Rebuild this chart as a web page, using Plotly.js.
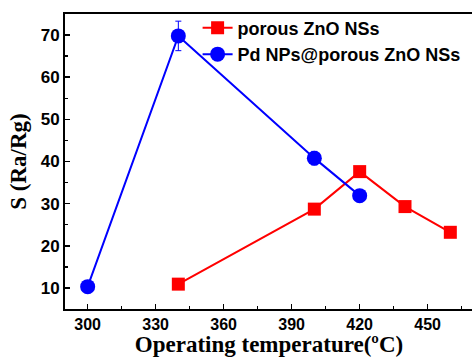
<!DOCTYPE html>
<html>
<head>
<meta charset="utf-8">
<script src="https://cdn.plot.ly/plotly-3.0.1.min.js"></script>
<style>
html,body{margin:0;padding:0;overflow:hidden;background:#fff;width:472px;height:357px;}
#chart{width:480px;height:357px;}
</style>
</head>
<body>
<div id="chart"></div>
<script>
// Data
const porousTemps = [340, 400, 420, 440, 460];
const porousS = [10.9, 28.7, 37.6, 29.3, 23.2];
const pdTemps = [300, 340, 400, 420];
const pdS = [10.3, 69.8, 40.8, 31.9];
const pdErr = [0, 3.5, 1.6, 0];
const xTickVals = [300, 330, 360, 390, 420, 450];
const yTickVals = [10, 20, 30, 40, 50, 60, 70];
const seriesNames = ['porous ZnO NSs', 'Pd NPs@porous ZnO NSs'];

const tickFont = {family: 'Arial, "Liberation Sans", sans-serif', size: 17, color: '#000', weight: 'bold'};
const xTickFont = {family: 'Arial, "Liberation Sans", sans-serif', size: 16, color: '#000', weight: 'bold'};
const titleFont = {family: '"Times New Roman", "Liberation Serif", serif', size: 23, color: '#000', weight: 'bold'};

const traces = [
  {
    x: porousTemps, y: porousS, name: seriesNames[0], type: 'scatter', mode: 'lines+markers',
    line: {color: '#ff0000', width: 2},
    marker: {symbol: 'square', size: 13, color: '#ff0000'}
  },
  {
    x: pdTemps, y: pdS, name: seriesNames[1], type: 'scatter', mode: 'lines+markers',
    line: {color: '#0000ff', width: 2},
    marker: {symbol: 'circle', size: 15, color: '#0000ff'},
    error_y: {type: 'data', array: pdErr, visible: true, color: '#0000ff', thickness: 1, width: 3}
  }
];

const axisCommon = {
  showgrid: false, zeroline: false, showline: true, linecolor: '#000', linewidth: 2,
  mirror: true, ticks: 'inside', ticklen: 5, tickwidth: 1.5, tickcolor: '#000',
  tickfont: tickFont
};

const layout = {
  width: 480, height: 357,
  margin: {l: 65, r: 7, t: 14, b: 48},
  paper_bgcolor: '#fff', plot_bgcolor: '#fff',
  showlegend: true,
  legend: {
    x: 0.325, y: 1.015, xanchor: 'left', yanchor: 'top',
    bgcolor: 'rgba(0,0,0,0)',
    font: {family: 'Arial, "Liberation Sans", sans-serif', size: 18, color: '#000', weight: 'bold'},
    tracegroupgap: 0
  },
  xaxis: Object.assign({}, axisCommon, {
    range: [290, 470], tickmode: 'array', tickvals: xTickVals, tickfont: xTickFont,
    minor: {dtick: 15, tick0: 300, ticks: 'inside', ticklen: 3, tickcolor: '#000', tickwidth: 1.5},
    title: {text: 'Operating temperature(ºC)', font: titleFont, standoff: 5}
  }),
  yaxis: Object.assign({}, axisCommon, {
    range: [5, 75], tickmode: 'array', tickvals: yTickVals,
    minor: {dtick: 5, tick0: 5, ticks: 'inside', ticklen: 3, tickcolor: '#000', tickwidth: 1.5},
    title: {text: 'S (Ra/Rg)', font: titleFont, standoff: 8}
  })
};

Plotly.newPlot('chart', traces, layout, {displayModeBar: false, staticPlot: true});
</script>
</body>
</html>
